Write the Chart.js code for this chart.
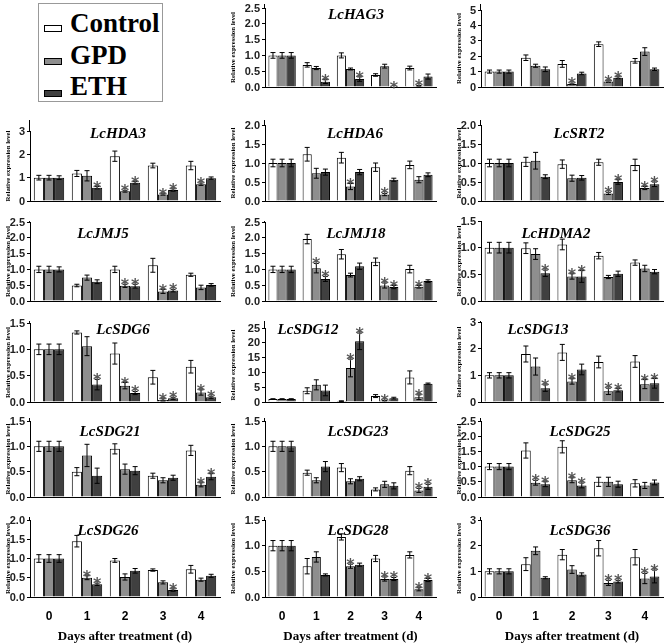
<!DOCTYPE html>
<html>
<head>
<meta charset="utf-8">
<script src="https://cdn.jsdelivr.net/npm/chart.js@4.4.1/dist/chart.umd.min.js"></script>
<style>
    body { margin: 0; background: #fff; width: 669px; height: 644px; position: relative; overflow: hidden; }
    canvas { position: absolute; }
    #legend { position: absolute; left: 38px; top: 3px; width: 125px; height: 99px; border: 1px solid #999; box-sizing: border-box; }
    .lg-text { position: absolute; left: 31px; font: bold 27px "Liberation Serif", serif; line-height: 27px; color: #000; }
    .lg-sw { position: absolute; left: 5px; width: 18px; height: 7px; border: 1px solid #000; box-sizing: border-box; }
</style>
</head>
<body>
<div id="legend"></div>
<script>
// 横轴类别与系列
const days = ['0', '1', '2', '3', '4'];
const seriesNames = ['Control', 'GPD', 'ETH'];
const seriesColors = ['#ffffff', '#8e8e8e', '#404040'];
const genes = ['LcHAG3', 'LcHDA2', 'LcHDA3', 'LcHDA6', 'LcSRT2', 'LcJMJ5', 'LcJMJ18', 'LcHDMA2',
    'LcSDG6', 'LcSDG12', 'LcSDG13', 'LcSDG21', 'LcSDG23', 'LcSDG25', 'LcSDG26', 'LcSDG28', 'LcSDG36'];

// 平均值（每行一个基因，按 genes 的顺序）
const controlMean = [
    [1.00, 0.70, 1.00, 0.38, 0.60],
    [1.00, 1.90, 1.50, 2.78, 1.70],
    [1.00, 1.18, 1.92, 1.52, 1.52],
    [1.00, 1.23, 1.14, 0.89, 0.95],
    [1.00, 1.03, 0.97, 1.02, 0.95],
    [1.00, 0.49, 1.00, 1.13, 0.83],
    [1.00, 1.96, 1.48, 1.24, 1.01],
    [1.00, 0.99, 1.06, 0.85, 0.72],
    [1.00, 1.32, 0.92, 0.47, 0.67],
    [1.00, 3.80, 0.30, 2.00, 8.30],
    [1.00, 1.80, 1.86, 1.50, 1.52],
    [1.00, 0.50, 0.95, 0.42, 0.92],
    [1.00, 0.48, 0.58, 0.15, 0.52],
    [1.00, 1.53, 1.65, 0.50, 0.45],
    [1.00, 1.45, 0.95, 0.70, 0.72],
    [1.00, 0.60, 1.17, 0.75, 0.82],
    [1.00, 1.28, 1.65, 1.90, 1.55]
];
const gpdMean = [
    [1.00, 0.60, 0.57, 0.66, 0.04],
    [1.00, 1.38, 0.20, 0.35, 2.30],
    [1.00, 1.08, 0.42, 0.28, 0.72],
    [1.00, 0.73, 0.38, 0.17, 0.56],
    [1.00, 1.06, 0.60, 0.20, 0.34],
    [1.00, 0.74, 0.48, 0.30, 0.43],
    [1.00, 1.04, 0.82, 0.49, 0.45],
    [1.00, 0.88, 0.46, 0.45, 0.61],
    [1.00, 1.06, 0.31, 0.04, 0.18],
    [1.00, 5.80, 11.5, 0.50, 1.60],
    [1.00, 1.33, 0.77, 0.40, 0.67],
    [1.00, 0.82, 0.55, 0.33, 0.24],
    [1.00, 0.33, 0.31, 0.25, 0.13],
    [1.00, 0.47, 0.55, 0.50, 0.38],
    [1.00, 0.50, 0.52, 0.38, 0.45],
    [1.00, 0.78, 0.60, 0.35, 0.15],
    [1.00, 1.80, 1.07, 0.55, 0.72]
];
const ethMean = [
    [1.00, 0.17, 0.25, 0.00, 0.33],
    [1.00, 1.15, 0.88, 0.60, 1.15],
    [1.00, 0.57, 0.78, 0.47, 0.98],
    [1.00, 0.76, 0.76, 0.56, 0.69],
    [1.00, 0.64, 0.61, 0.50, 0.44],
    [1.00, 0.61, 0.47, 0.33, 0.51],
    [1.00, 0.70, 1.10, 0.44, 0.63],
    [1.00, 0.52, 0.46, 0.51, 0.55],
    [1.00, 0.33, 0.17, 0.07, 0.09],
    [1.00, 3.90, 20.5, 1.30, 6.20],
    [1.00, 0.52, 1.22, 0.44, 0.70],
    [1.00, 0.42, 0.52, 0.38, 0.40],
    [1.00, 0.60, 0.36, 0.22, 0.20],
    [1.00, 0.42, 0.38, 0.42, 0.48],
    [1.00, 0.33, 0.68, 0.18, 0.55],
    [1.00, 0.43, 0.63, 0.35, 0.33],
    [1.00, 0.75, 0.88, 0.60, 0.80]
];

// 误差线（标准差）
const controlErr = [
    [0.09, 0.07, 0.08, 0.04, 0.06],
    [0.10, 0.18, 0.22, 0.15, 0.15],
    [0.10, 0.13, 0.22, 0.10, 0.18],
    [0.10, 0.18, 0.14, 0.11, 0.10],
    [0.10, 0.12, 0.11, 0.08, 0.15],
    [0.10, 0.04, 0.10, 0.22, 0.05],
    [0.10, 0.15, 0.15, 0.12, 0.12],
    [0.10, 0.10, 0.10, 0.06, 0.05],
    [0.10, 0.03, 0.20, 0.13, 0.12],
    [0.10, 1.00, 0.10, 0.50, 2.20],
    [0.10, 0.30, 0.30, 0.22, 0.22],
    [0.10, 0.08, 0.10, 0.05, 0.10],
    [0.10, 0.05, 0.08, 0.03, 0.08],
    [0.10, 0.25, 0.20, 0.15, 0.12],
    [0.10, 0.15, 0.05, 0.03, 0.10],
    [0.10, 0.15, 0.06, 0.06, 0.06],
    [0.10, 0.25, 0.20, 0.30, 0.30]
];
const gpdErr = [
    [0.09, 0.05, 0.03, 0.06, 0.01],
    [0.10, 0.10, 0.05, 0.05, 0.25],
    [0.10, 0.22, 0.04, 0.03, 0.05],
    [0.10, 0.13, 0.08, 0.03, 0.08],
    [0.10, 0.22, 0.08, 0.03, 0.04],
    [0.10, 0.08, 0.05, 0.06, 0.07],
    [0.10, 0.15, 0.06, 0.08, 0.04],
    [0.10, 0.10, 0.05, 0.03, 0.06],
    [0.10, 0.18, 0.06, 0.02, 0.05],
    [0.10, 1.70, 3.00, 0.10, 0.80],
    [0.10, 0.32, 0.10, 0.12, 0.17],
    [0.10, 0.22, 0.10, 0.05, 0.04],
    [0.10, 0.05, 0.05, 0.06, 0.04],
    [0.10, 0.08, 0.08, 0.15, 0.10],
    [0.10, 0.05, 0.08, 0.04, 0.04],
    [0.10, 0.10, 0.04, 0.04, 0.03],
    [0.10, 0.15, 0.15, 0.10, 0.20]
];
const ethErr = [
    [0.09, 0.06, 0.07, 0.00, 0.08],
    [0.10, 0.15, 0.08, 0.06, 0.08],
    [0.08, 0.05, 0.05, 0.05, 0.05],
    [0.10, 0.08, 0.07, 0.04, 0.05],
    [0.10, 0.05, 0.06, 0.06, 0.06],
    [0.08, 0.06, 0.06, 0.04, 0.04],
    [0.10, 0.08, 0.10, 0.05, 0.04],
    [0.10, 0.06, 0.11, 0.05, 0.04],
    [0.10, 0.10, 0.03, 0.02, 0.02],
    [0.10, 1.80, 2.80, 0.30, 0.20],
    [0.10, 0.12, 0.20, 0.06, 0.18],
    [0.10, 0.15, 0.08, 0.05, 0.06],
    [0.10, 0.10, 0.04, 0.06, 0.05],
    [0.10, 0.08, 0.08, 0.10, 0.08],
    [0.10, 0.03, 0.06, 0.03, 0.04],
    [0.10, 0.02, 0.03, 0.03, 0.03],
    [0.10, 0.04, 0.06, 0.05, 0.25]
];

// 显著性标记（1 = 画 *）
const gpdStar = [
    [0, 0, 0, 0, 1], [0, 0, 1, 1, 0], [0, 0, 1, 1, 1], [0, 0, 1, 1, 0], [0, 0, 0, 1, 1],
    [0, 0, 1, 1, 0], [0, 1, 0, 1, 1], [0, 0, 1, 0, 0], [0, 0, 1, 1, 1], [0, 0, 1, 1, 1],
    [0, 0, 1, 1, 1], [0, 0, 0, 0, 1], [0, 0, 0, 0, 1], [0, 1, 1, 0, 0], [0, 1, 0, 0, 0],
    [0, 0, 1, 1, 1], [0, 0, 0, 1, 1]
];
const ethStar = [
    [0, 1, 1, 1, 0], [0, 0, 0, 1, 0], [0, 1, 1, 1, 0], [0, 0, 0, 0, 0], [0, 0, 0, 1, 1],
    [0, 0, 1, 1, 0], [0, 1, 0, 1, 0], [0, 1, 1, 0, 0], [0, 1, 1, 1, 1], [0, 0, 1, 0, 0],
    [0, 1, 0, 1, 1], [0, 0, 0, 0, 1], [0, 0, 0, 0, 1], [0, 1, 1, 0, 0], [0, 1, 0, 1, 0],
    [0, 0, 0, 1, 1], [0, 0, 0, 1, 1]
];

// Y 轴最高刻度与刻度间隔
const axisMax = [2.5, 5, 3, 2, 2, 2.5, 2.5, 1.5, 1.5, 25, 3, 1.5, 1.5, 2.5, 2, 1.5, 3];
const axisStep = [0.5, 1, 1, 0.5, 0.5, 0.5, 0.5, 0.5, 0.5, 5, 1, 0.5, 0.5, 0.5, 0.5, 0.5, 1];

// 版面（像素）
const colLeft = [0, 223, 446];
const plotLeft = [30, 265, 481];
const plotRight = [220, 436, 663];
const yAxisWidth = [26, 36, 26];
const rowTop = [4, 120, 221, 321, 418, 517];
const rowBottom = [87, 201, 301, 402, 497, 597];
const topTickY = [8, 10, 131, 125, 125, 222, 222, 221, 323, 328, 322, 421, 421, 421, 520, 520, 520];
const titleX = [356, 579, 118, 355, 579, 103, 356, 556, 123, 308, 538, 110, 358, 580, 108, 358, 580];
const titleY = [15, 134, 134, 134, 134, 234, 234, 234, 330, 330, 330, 432, 432, 432, 531, 531, 531];

const means = [controlMean, gpdMean, ethMean];
const errs = [controlErr, gpdErr, ethErr];
const stars = [null, gpdStar, ethStar];

// 图例
const legendBox = document.getElementById('legend');
const legendTextTop = [6, 38, 69];
const legendSwTop = [21, 54, 86];
seriesNames.forEach((name, s) => {
    const sw = document.createElement('div');
    sw.className = 'lg-sw';
    sw.style.top = legendSwTop[s] + 'px';
    sw.style.background = seriesColors[s];
    legendBox.appendChild(sw);
    const t = document.createElement('div');
    t.className = 'lg-text';
    t.style.top = legendTextTop[s] + 'px';
    t.textContent = name;
    legendBox.appendChild(t);
});

// 误差线、星号、基因名、Y 轴刻度文字，以及 Y 轴向上延伸的一小段
const panelMarks = {
    id: 'panelMarks',
    afterDatasetsDraw(chart, args, opts) {
        const ctx = chart.ctx;
        const y = chart.scales.y;
        const area = chart.chartArea;
        ctx.save();
        ctx.strokeStyle = '#000';
        ctx.lineWidth = 1;
        if (opts.axisTop < area.top) {
            ctx.beginPath();
            ctx.moveTo(area.left - 0.5, area.top);
            ctx.lineTo(area.left - 0.5, opts.axisTop);
            ctx.stroke();
        }
        // 刻度文字：逐个按步长取值，由 y 轴换算位置
        ctx.fillStyle = '#222';
        ctx.font = 'bold 11px "Liberation Sans", Arial, sans-serif';
        ctx.textAlign = 'right';
        ctx.textBaseline = 'middle';
        const n = Math.round(opts.max / opts.step);
        for (let k = 0; k <= n; k++) {
            const v = k * opts.step;
            ctx.fillText(opts.step < 1 ? v.toFixed(1) : String(v), area.left - 5, y.getPixelForValue(v) + 0.5);
        }
        chart.data.datasets.forEach((ds, di) => {
            chart.getDatasetMeta(di).data.forEach((bar, i) => {
                const v = ds.data[i];
                const e = ds.errors[i];
                const top = y.getPixelForValue(v + e);
                const bot = y.getPixelForValue(Math.max(v - e, 0));
                if (e > 0) {
                    ctx.beginPath();
                    ctx.moveTo(bar.x, top); ctx.lineTo(bar.x, bot);
                    ctx.moveTo(bar.x - 2.5, top); ctx.lineTo(bar.x + 2.5, top);
                    ctx.moveTo(bar.x - 2.5, bot); ctx.lineTo(bar.x + 2.5, bot);
                    ctx.stroke();
                }
                if (ds.stars && ds.stars[i]) {
                    ctx.fillStyle = '#555';
                    ctx.font = 'bold 16px "DejaVu Sans", sans-serif';
                    ctx.textAlign = 'center';
                    ctx.textBaseline = 'alphabetic';
                    ctx.fillText('*', bar.x, top + 6);
                }
            });
        });
        ctx.fillStyle = '#000';
        ctx.font = 'italic bold 15px "Liberation Serif", serif';
        ctx.textAlign = 'center';
        ctx.textBaseline = 'middle';
        ctx.fillText(opts.text, opts.x, opts.y);
        ctx.restore();
    }
};

genes.forEach((gene, g) => {
    const slot = g + 1;
    const col = slot % 3;
    const row = Math.floor(slot / 3);
    const isBottom = row === 5;
    const step = axisStep[g];
    const canvasTop = rowTop[row] - 8;
    const xh = isBottom ? 644 - rowBottom[row] : 8;
    const canvasHeight = rowBottom[row] + xh - canvasTop;

    const canvas = document.createElement('canvas');
    canvas.width = 223;
    canvas.height = canvasHeight;
    canvas.style.left = colLeft[col] + 'px';
    canvas.style.top = canvasTop + 'px';
    canvas.style.width = '223px';
    canvas.style.height = canvasHeight + 'px';
    document.body.appendChild(canvas);

    new Chart(canvas.getContext('2d'), {
        type: 'bar',
        data: {
            labels: days,
            datasets: seriesNames.map((name, s) => ({
                label: name,
                data: means[s][g],
                errors: errs[s][g],
                stars: stars[s] ? stars[s][g] : null,
                backgroundColor: seriesColors[s],
                borderColor: '#000',
                borderWidth: 1,
                categoryPercentage: 0.8,
                barPercentage: 1.0
            }))
        },
        options: {
            responsive: false,
            animation: false,
            devicePixelRatio: 1,
            layout: {
                padding: {
                    left: plotLeft[col] - colLeft[col] - yAxisWidth[col],
                    right: colLeft[col] + 223 - plotRight[col],
                    top: topTickY[g] - canvasTop,
                    bottom: 0
                }
            },
            plugins: {
                legend: { display: false },
                tooltip: { enabled: false },
                panelMarks: {
                    text: gene,
                    x: titleX[g] - colLeft[col],
                    y: titleY[g] - canvasTop,
                    axisTop: rowTop[row] - canvasTop,
                    max: axisMax[g],
                    step: step
                }
            },
            scales: {
                x: {
                    grid: { display: false },
                    border: { display: true, color: '#000', width: 1 },
                    ticks: {
                        display: isBottom,
                        padding: 4,
                        color: '#000',
                        font: { family: '"Liberation Sans", Arial, sans-serif', size: 12, weight: 'bold' }
                    },
                    title: {
                        display: isBottom,
                        text: 'Days after treatment (d)',
                        color: '#000',
                        padding: { top: 6, bottom: 0 },
                        font: { family: '"Liberation Serif", serif', size: 13, weight: 'bold' }
                    },
                    afterFit(scale) { scale.height = xh; }
                },
                y: {
                    min: 0,
                    max: axisMax[g],
                    border: { display: true, color: '#000', width: 1 },
                    grid: { drawOnChartArea: false, color: '#000', tickLength: 3 },
                    ticks: {
                        stepSize: step,
                        autoSkip: false,
                        padding: 1,
                        color: 'rgba(0,0,0,0)',
                        font: { family: '"Liberation Sans", Arial, sans-serif', size: 11, weight: 'bold' }
                    },
                    afterBuildTicks(scale) {
                        const n = Math.round(axisMax[g] / step);
                        const ticks = [];
                        for (let k = 0; k <= n; k++) ticks.push({ value: k * step });
                        scale.ticks = ticks;
                    },
                    title: {
                        display: true,
                        text: 'Relative expression level',
                        color: '#000',
                        padding: 0,
                        font: { family: '"Liberation Serif", serif', size: 6.8, weight: 'bold' }
                    },
                    afterFit(scale) { scale.width = yAxisWidth[col]; }
                }
            }
        },
        plugins: [panelMarks]
    });
});
</script>
</body>
</html>
